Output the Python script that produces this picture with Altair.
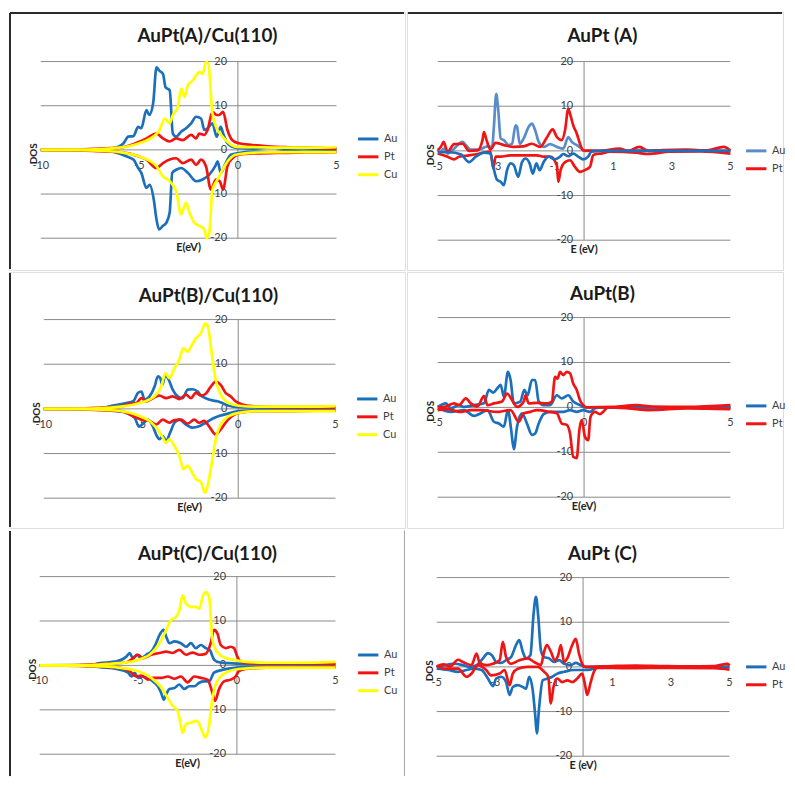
import altair as alt
import pandas as pd

# ---------------- data ----------------
Y_TICKS = [-20, -10, 0, 10, 20]
X_TICKS_CU = [-10, -5, 0, 5]
X_TICKS_A = [-5, -3, -1, 1, 3, 5]
X_TICKS_B = [-5, 0, 5]
X_TICKS_C = [-5, -3, -1, 1, 3, 5]

# ---- AuPt(A)/Cu(110)
A_CU_AU_UP_E = [-10, -8, -7, -6.3, -5.8, -5.56, -5.3, -5.06, -4.9, -4.64, -4.5, -4.3, -4.13, -4.0, -3.8, -3.67, -3.46, -3.3, -3.13, -2.88, -2.63, -2.37, -2.12, -1.87, -1.7, -1.54, -1.29, -1.08, -0.87, -0.75, -0.53, -0.28, 0.05, 0.8, 1.7, 2.3, 3.2, 4.0, 5]
A_CU_AU_UP = [0, 0.05, 0.2, 0.4, 1.5, 3, 3.1, 5.2, 4.9, 9, 7.9, 10.5, 18.7, 18, 17.2, 14.2, 13.5, 3.7, 3, 4.1, 4.9, 6, 7.5, 7.1, 4.5, 4.9, 6, 3, 5.2, 3.7, 1.5, 0.7, 0.4, 0.3, 0.6, 0.3, 0.4, 0.3, 0.3]
A_CU_AU_DN_E = [-10, -8, -7, -6.5, -5.64, -5.3, -5.06, -4.9, -4.64, -4.47, -4.27, -4.13, -4.0, -3.8, -3.63, -3.46, -3.33, -3.13, -2.88, -2.54, -2.12, -1.79, -1.45, -1.15, -1.03, -0.87, -0.62, -0.36, 0.05, 0.8, 1.7, 2.5, 3.5, 5]
A_CU_AU_DN = [0, -0.05, -0.2, -0.3, -1.5, -2.2, -4.1, -5.2, -8.6, -7.9, -11.2, -15.7, -18, -17.2, -16.5, -14.2, -5.2, -4.5, -4.1, -5.2, -7.1, -6.7, -5.6, -3.7, -2.6, -5.2, -3, -1.1, -0.7, -0.4, -0.6, -0.3, -0.4, -0.3]
A_CU_PT_UP_E = [-10, -8, -7, -6, -5.5, -4.97, -4.64, -4.13, -3.8, -3.46, -3.13, -2.8, -2.37, -2.12, -1.96, -1.7, -1.54, -1.29, -1.08, -0.95, -0.75, -0.53, -0.28, 0.05, 0.73, 1.5, 2.5, 3.5, 5]
A_CU_PT_UP = [0, 0.1, 0.3, 0.5, 1, 1.9, 2.6, 3.7, 2.6, 1.9, 2.6, 2.2, 3.4, 2.6, 3.7, 3.4, 4.5, 8.6, 7.9, 7.9, 8.6, 4.5, 2.2, 1.5, 1.1, 0.8, 0.6, 0.5, 0.3]
A_CU_PT_DN_E = [-10, -8, -7, -6, -5, -4.64, -4.13, -3.8, -3.46, -3.13, -2.8, -2.37, -2.12, -1.87, -1.62, -1.37, -1.12, -0.92, -0.75, -0.53, -0.28, 0.05, 0.8, 2, 3.5, 5]
A_CU_PT_DN = [0, -0.1, -0.3, -0.5, -1.5, -2.2, -4.1, -3, -2.2, -1.9, -3, -2.2, -3.4, -2.2, -3.7, -9, -6.7, -7.1, -9, -3.7, -1.9, -1.1, -0.8, -0.7, -0.6, -0.5]
A_CU_CU_UP_E = [-10, -8, -7, -6, -5, -4.3, -3.97, -3.72, -3.46, -3.3, -3.05, -2.88, -2.7, -2.54, -2.29, -2.12, -1.96, -1.79, -1.62, -1.5, -1.29, -1.03, -0.78, -0.45, -0.11, 1, 2.5, 4, 5]
A_CU_CU_UP = [0, 0.05, 0.2, 0.5, 1.5, 3, 4.5, 7.1, 6, 7.9, 9.7, 13.9, 12, 14.6, 15.7, 16.9, 17.6, 17.2, 19.9, 19.5, 8.2, 4.5, 3, 1.5, 0.7, 0.6, 0.5, 0.5, 0.6]
A_CU_CU_DN_E = [-10, -8, -7, -6, -5, -4.13, -3.8, -3.46, -3.13, -2.88, -2.63, -2.46, -2.21, -1.96, -1.7, -1.59, -1.45, -1.29, -1.03, -0.78, -0.45, -0.11, 1, 2.5, 4, 5]
A_CU_CU_DN = [0, -0.05, -0.2, -0.5, -1.5, -3.7, -6, -7.1, -9.4, -14.6, -12, -14.2, -16.5, -17.2, -18, -20, -18.7, -9, -6.7, -4.5, -2.2, -1.1, -0.6, -0.5, -0.5, -0.5]

# ---- AuPt (A)
A_AU_UP_E = [-5, -4.94, -4.77, -4.66, -4.5, -4.15, -4.04, -3.87, -3.6, -3.3, -3.14, -3.08, -3.0, -2.93, -2.85, -2.74, -2.57, -2.46, -2.34, -2.29, -2.2, -2.06, -1.89, -1.78, -1.67, -1.55, -1.38, -1.16, -0.93, -0.71, -0.54, -0.42, -0.25, -0.08, 0.03, 1, 2, 3, 4, 5]
A_AU_UP = [0.3, -0.2, 0.5, -0.6, 0.1, 2, 1.3, 0.3, 0.3, 1.0, 0.9, 5.4, 12.8, 9, 2.8, 2.4, 1.3, 1.6, 5.7, 5.4, 1.6, 2.8, 5.4, 6.1, 4.6, 2, 0.9, 1.5, 0.9, 0.5, 3.1, 2, 1.3, 0.5, 0, 0, 0.1, 0, 0.1, 0]
A_AU_DN_E = [-5, -4.6, -4.2, -3.93, -3.7, -3.42, -3.2, -3.1, -2.97, -2.85, -2.74, -2.63, -2.51, -2.4, -2.25, -2.12, -2.0, -1.86, -1.75, -1.63, -1.52, -1.38, -1.21, -0.99, -0.82, -0.71, -0.54, -0.37, -0.2, -0.03, 0.14, 0.25, 0.5, 1.5, 3, 5]
A_AU_DN = [-0.3, -0.3, -0.8, -2.5, -1.3, -0.4, -0.6, -3.6, -6.5, -6.9, -7.7, -4.3, -2.8, -3.2, -5.8, -2.5, -1.7, -2.8, -5.1, -2.8, -4.3, -2.5, -1.3, -1.9, -1.3, -0.7, -1.2, -0.6, -1.3, -1.9, -1.3, -0.2, 0, 0, 0, 0]
A_PT_UP_E = [-5, -4.89, -4.8, -4.66, -4.44, -4.15, -3.93, -3.64, -3.47, -3.42, -3.33, -3.2, -3.02, -2.74, -2.4, -2.06, -1.78, -1.5, -1.27, -1.07, -0.93, -0.76, -0.65, -0.54, -0.45, -0.37, -0.25, -0.14, -0.03, 0.5, 1.21, 1.5, 1.89, 2.2, 2.68, 3.47, 4.2, 4.77, 5]
A_PT_UP = [0.2, 0.9, 2, -0.2, 1.5, 1.6, 0, 0.1, 2.4, 4.2, 2.4, 0.3, 1.8, 1.3, 0.9, 1.0, 1.6, 0.9, 3, 4.8, 3.1, 2.4, 4.6, 9.4, 7.6, 5.7, 3.9, 1.6, 0.1, 0, 0.5, 0, 0.9, 0, 0.2, 0.3, 0.1, 0.9, 0.1]
A_PT_DN_E = [-5, -4.66, -4.44, -4.27, -3.93, -3.64, -3.2, -3.1, -3.02, -2.85, -2.51, -2.18, -1.61, -1.38, -1.16, -0.93, -0.88, -0.8, -0.65, -0.48, -0.31, -0.14, 0.03, 0.2, 0.31, 0.42, 0.59, 0.88, 1.78, 2.18, 2.91, 4, 5]
A_PT_DN = [-0.6, -1.3, -1.9, -1.3, -1, -0.7, -0.2, -3.9, -1.3, -1.3, -1, -1, -1, -1.3, -1.3, -3.2, -6.9, -4.3, -2.5, -2.1, -3.6, -4.7, -4.3, -3.6, -1, -0.7, -0.6, -0.2, -0.4, -0.7, -0.2, -0.1, -0.6]

# ---- AuPt(B)/Cu(110)
B_CU_AU_UP_E = [-10, -8, -7, -6.6, -5.75, -5.4, -5.15, -4.98, -4.81, -4.56, -4.3, -4.13, -4.01, -3.91, -3.74, -3.57, -3.37, -3.11, -2.86, -2.6, -2.35, -2.09, -1.92, -1.67, -1.33, -1.07, -0.82, -0.48, 0.03, 1, 2.5, 4, 5]
B_CU_AU_UP = [0, 0.05, 0.2, 0.6, 1.3, 1.7, 3.6, 3.9, 2.1, 2.8, 5, 7.3, 6.9, 5.4, 7.6, 6.5, 4.3, 2.8, 2.4, 4.3, 4.4, 3.9, 3, 2.4, 1.9, 1.7, 1.3, 0.7, 0.4, 0.3, 0.2, 0.3, 0.2]
B_CU_AU_DN_E = [-10, -8, -7, -6.5, -5.75, -5.32, -5.1, -4.9, -4.64, -4.39, -4.18, -4.05, -3.88, -3.71, -3.5, -3.28, -3.03, -2.69, -2.35, -2.01, -1.67, -1.33, -0.99, -0.48, 0.03, 1, 2.5, 4, 5]
B_CU_AU_DN = [0, -0.05, -0.2, -0.4, -0.9, -2, -4, -3.3, -2.4, -3.9, -6.1, -6.8, -6.1, -7.2, -5.3, -3.1, -2.4, -3.5, -4.2, -3.9, -3.1, -2.2, -1.6, -1, -0.5, -0.3, -0.3, -0.3, -0.3]
B_CU_PT_UP_E = [-10, -8, -7, -6, -5.75, -5.24, -4.98, -4.73, -4.39, -4.05, -3.71, -3.37, -3.03, -2.69, -2.43, -2.18, -1.92, -1.67, -1.41, -1.16, -0.9, -0.65, -0.39, -0.14, 0.2, 0.71, 2, 3.5, 5]
B_CU_PT_UP = [0, 0.1, 0.3, 0.5, 1, 1.3, 2.4, 1.7, 2.4, 3, 2.4, 2.8, 2.2, 3.2, 2.4, 3.6, 3, 3.4, 5, 6.1, 5.4, 3.6, 2.8, 1.7, 1, 0.6, 0.4, 0.4, 0.4]
B_CU_PT_DN_E = [-10, -8, -7, -6, -5.41, -4.98, -4.56, -4.22, -3.88, -3.54, -3.28, -2.94, -2.6, -2.26, -2.01, -1.75, -1.5, -1.16, -0.9, -0.65, -0.31, 0.03, 1, 2.5, 4, 5]
B_CU_PT_DN = [0, -0.1, -0.3, -0.5, -1.6, -2.4, -2.7, -3.5, -2.4, -3.1, -2.5, -2.4, -3.3, -2.4, -3.1, -2.7, -3.9, -5.7, -4.6, -3.1, -1.6, -0.9, -0.5, -0.5, -0.4, -0.4]
B_CU_CU_UP_E = [-10, -8, -7, -6, -5.07, -4.56, -4.22, -3.96, -3.74, -3.54, -3.28, -3.03, -2.82, -2.6, -2.38, -2.18, -1.92, -1.7, -1.58, -1.36, -1.16, -0.9, -0.48, 0.03, 1, 2.5, 4, 5]
B_CU_CU_UP = [0, 0.05, 0.2, 0.5, 1.3, 2.1, 3.2, 5, 8, 6.9, 9.1, 11, 13.6, 12.8, 14.3, 15.8, 16.9, 19.1, 18.7, 12.4, 6.5, 3.2, 1.3, 0.7, 0.5, 0.5, 0.5, 0.6]
B_CU_CU_DN_E = [-10, -8, -7, -6, -5.07, -4.56, -4.22, -3.88, -3.71, -3.54, -3.28, -3.03, -2.82, -2.6, -2.38, -2.18, -1.92, -1.7, -1.53, -1.33, -1.12, -0.9, -0.48, 0.03, 1, 2.5, 4, 5]
B_CU_CU_DN = [0, -0.05, -0.2, -0.5, -1.6, -2.7, -4.2, -6.4, -7.6, -6.8, -8.3, -10.5, -13.5, -12.7, -14.2, -15.7, -16.4, -18.8, -16.4, -11.3, -6.1, -3.5, -1.6, -0.9, -0.5, -0.5, -0.5, -0.5]

# ---- AuPt(B)
B_AU_UP_E = [-5, -4.72, -4.55, -4.27, -4.1, -3.76, -3.42, -3.25, -3.1, -2.97, -2.85, -2.74, -2.6, -2.51, -2.4, -2.18, -2.04, -1.93, -1.78, -1.67, -1.55, -1.38, -1.16, -0.93, -0.76, -0.54, -0.37, -0.14, 0.03, 1, 2, 3, 4, 5]
B_AU_UP = [0.1, 0.9, -0.2, 0.5, 0.1, 0.5, 0.9, 3.9, 3.3, 4.2, 5, 2.4, 7.9, 6.1, 0.9, 1.3, 3.9, 2.7, 6.1, 6.1, 1.3, 0.5, 0.5, 2.7, 2, 2.7, 1.3, 0.5, 0, 0, 0, 0, 0, 0]
B_AU_DN_E = [-5, -4.55, -4.1, -3.76, -3.53, -3.3, -3.08, -2.91, -2.74, -2.6, -2.49, -2.4, -2.29, -2.12, -1.95, -1.78, -1.67, -1.55, -1.38, -1.16, -0.93, -0.71, -0.48, -0.25, -0.03, 0.2, 0.37, 0.6, 2, 3.5, 5]
B_AU_DN = [-0.2, -1, -0.6, -1.9, -1.3, -0.6, -3.2, -3.6, -4.3, -0.6, -5, -9.3, -4.3, -1.3, -3.6, -6.1, -5.8, -3.6, -1.5, -1, -1, -1, -0.6, -1, -0.6, -1, -0.2, 0, 0, 0, 0]
B_PT_UP_E = [-5, -4.72, -4.44, -4.27, -4.04, -3.87, -3.64, -3.42, -3.3, -3.08, -2.8, -2.63, -2.46, -2.29, -2.06, -2.0, -1.89, -1.61, -1.27, -1.1, -0.99, -0.91, -0.82, -0.71, -0.59, -0.48, -0.37, -0.25, -0.14, -0.03, 0.08, 1, 1.78, 2.34, 3.5, 5]
B_PT_UP = [0, 0.2, 0.9, 0.5, 2, 0.9, 0.2, 2.5, 0.5, 0.9, 1.3, 3.1, 1.6, 0.1, 1.3, 2.7, 0.9, 1, 0.9, 1.3, 6.8, 6.4, 7.9, 7.2, 7.9, 7.6, 5.3, 3.9, 1.6, 0.5, 0, 0.1, 0.5, 0.2, 0.1, 0.5]
B_PT_DN_E = [-5, -4.66, -4.44, -4.21, -3.87, -3.53, -2.97, -2.51, -2.23, -2.06, -1.84, -1.61, -1.16, -0.93, -0.76, -0.59, -0.48, -0.37, -0.25, -0.16, -0.08, 0.03, 0.14, 0.22, 0.37, 0.54, 0.65, 0.82, 1.5, 2.23, 3.5, 5]
B_PT_DN = [-0.6, -0.4, -0.7, -1, -0.6, -0.6, -1, -0.6, -3.2, -1.3, -1, -0.6, -1, -1.3, -3.6, -3.9, -5.8, -11, -11.3, -5, -2.8, -6.5, -7.3, -2.1, -1, -1.5, -1, 0, -0.2, -0.6, -0.2, -0.4]

# ---- AuPt(C)/Cu(110)
C_CU_AU_UP_E = [-10, -8, -7.5, -6.95, -6.1, -5.6, -5.44, -5.27, -5.07, -4.85, -4.6, -4.35, -4.1, -3.93, -3.72, -3.59, -3.42, -3.17, -2.84, -2.58, -2.33, -2.08, -1.83, -1.58, -1.38, -1.16, -0.91, -0.4, 0.1, 1, 2.5, 4, 5]
C_CU_AU_UP = [0, 0.05, 0.1, 0.5, 0.9, 2, 2.8, 1.6, 2.4, 1.6, 2.4, 3.1, 5, 6.8, 8, 6.5, 5, 5.4, 5, 4.2, 5, 3.9, 4.6, 3.9, 3.5, 1.3, 0.7, 0.5, 0.4, 0.3, 0.3, 0.3, 0.3]
C_CU_AU_DN_E = [-10, -8, -7.5, -6.95, -6.1, -5.52, -5.35, -5.18, -5.02, -4.77, -4.51, -4.26, -4.01, -3.84, -3.71, -3.59, -3.42, -3.17, -2.92, -2.67, -2.42, -2.16, -1.91, -1.66, -1.41, -1.16, -0.74, -0.23, 0.5, 2, 3.5, 5]
C_CU_AU_DN = [0, -0.05, -0.1, -0.4, -0.8, -1.6, -2.5, -1.7, -2.8, -2.5, -2.8, -3.6, -4.7, -6.2, -7.7, -6.5, -5.3, -5.1, -4.3, -5.3, -4.7, -4.7, -3.9, -3.6, -3.6, -1.6, -1, -0.6, -0.4, -0.4, -0.3, -0.4]
C_CU_PT_UP_E = [-10, -8, -7, -6, -5.6, -5.27, -5.02, -4.77, -4.35, -3.93, -3.59, -3.26, -2.92, -2.58, -2.25, -1.91, -1.58, -1.33, -1.16, -0.99, -0.82, -0.57, -0.32, -0.15, 0.02, 0.18, 0.6, 2, 3.5, 5]
C_CU_PT_UP = [0, 0.1, 0.3, 0.5, 0.7, 1.6, 2.4, 1.6, 2.4, 2.8, 3.1, 2.8, 3.5, 2.4, 2.9, 2.4, 2.6, 5, 8, 7.2, 4.6, 3.9, 4.2, 3.9, 2, 0.9, 0.5, 0.4, 0.4, 0.3]
C_CU_PT_DN_E = [-10, -8, -7, -6, -5.44, -5.1, -4.85, -4.51, -4.26, -3.84, -3.51, -3.17, -2.84, -2.5, -2.16, -1.83, -1.49, -1.24, -1.11, -0.91, -0.65, -0.32, -0.07, 0.1, 0.44, 1.5, 3, 5]
C_CU_PT_DN = [0, -0.1, -0.3, -0.5, -1.3, -2.5, -2.3, -3.2, -2.8, -2.8, -2.5, -3, -2.5, -3.8, -2.5, -2.8, -3.2, -6.2, -8, -5.4, -3.6, -3.2, -2.5, -1.3, -0.8, -0.5, -0.5, -0.4]
C_CU_CU_UP_E = [-10, -8, -7, -6, -5.27, -4.77, -4.43, -4.1, -3.84, -3.59, -3.34, -3.09, -2.92, -2.75, -2.58, -2.33, -2.08, -1.91, -1.71, -1.58, -1.41, -1.24, -1.07, -0.74, -0.23, 0.27, 1.5, 3, 5]
C_CU_CU_UP = [0, 0.05, 0.2, 0.5, 0.9, 1.6, 2.4, 3.9, 5.7, 8, 10.2, 10.9, 12.4, 15.8, 13.9, 13.2, 13.2, 12.8, 15.8, 16.5, 15.4, 5.7, 3.5, 2, 1.3, 0.9, 0.6, 0.6, 0.8]
C_CU_CU_DN_E = [-10, -8, -7, -6, -5.27, -4.77, -4.35, -4.01, -3.76, -3.51, -3.26, -3.0, -2.84, -2.75, -2.58, -2.33, -2.08, -1.91, -1.74, -1.61, -1.44, -1.27, -1.11, -0.82, -0.4, 0.1, 1.5, 3, 5]
C_CU_CU_DN = [0, -0.05, -0.2, -0.5, -1, -1.7, -2.8, -4.1, -5.4, -7.3, -9.1, -10.3, -13.6, -15.2, -13.2, -12.9, -12.5, -13.2, -15.1, -16.2, -14.3, -8.4, -4.7, -2.5, -1.3, -0.8, -0.5, -0.5, -0.5]

# ---- AuPt (C)
C_AU_UP_E = [-5, -4.72, -4.38, -4.1, -3.87, -3.64, -3.42, -3.25, -3.11, -2.97, -2.8, -2.63, -2.46, -2.29, -2.18, -2.06, -1.95, -1.8, -1.69, -1.61, -1.53, -1.44, -1.33, -1.16, -0.99, -0.82, -0.65, -0.42, -0.25, -0.08, 0.08, 1, 2, 3, 4, 5]
C_AU_UP = [-0.1, 0.4, 0.7, 0.4, 0, 0.4, 1.9, 3.1, 2.6, 1.1, 0.9, 1.5, 2.2, 4.9, 6, 3.4, 1.9, 2.6, 11.9, 15.7, 11.2, 3.7, 2.2, 1.9, 1.1, 1.5, 0.7, 0.4, 0.9, 0.4, 0, 0, 0, 0, 0, 0]
C_AU_DN_E = [-5, -4.6, -4.27, -3.98, -3.76, -3.47, -3.25, -3.08, -2.97, -2.8, -2.63, -2.51, -2.4, -2.23, -2.06, -1.95, -1.84, -1.72, -1.63, -1.58, -1.5, -1.38, -1.21, -1.05, -0.88, -0.65, -0.31, 0.03, 0.25, 0.48, 1.5, 3, 5]
C_AU_DN = [-0.4, -0.7, -1.1, -0.7, -0.4, -0.7, -2.6, -4.3, -2.6, -2.2, -3.4, -6.3, -4.5, -4.1, -4.5, -4.9, -2.2, -5.2, -11.2, -14.9, -9, -3, -2.6, -2.2, -1.5, -1.1, -0.7, -0.7, -0.6, -0.1, 0, 0, 0]
C_PT_UP_E = [-5, -4.77, -4.55, -4.27, -4.1, -3.81, -3.64, -3.53, -3.31, -3.08, -2.85, -2.74, -2.63, -2.46, -2.18, -1.89, -1.67, -1.44, -1.33, -1.24, -1.1, -0.97, -0.85, -0.76, -0.65, -0.54, -0.37, -0.25, -0.14, -0.03, 0.08, 1, 1.8, 2.6, 3.5, 4.5, 4.94, 5]
C_PT_UP = [0.1, 0.6, 0.1, 1.6, 1.1, 0.4, 3, 0.9, 0.4, 0.7, 1.5, 5.6, 2.2, 0.7, 1.5, 1.9, 1.1, 0.4, 3.4, 4.9, 3.4, 1.5, 2.6, 4.9, 1.1, 1.9, 4.9, 6.3, 3, 0.7, 0, 0.2, 0.3, 0.2, 0.1, 0.2, 0.7, 0.3]
C_PT_DN_E = [-5, -4.72, -4.27, -3.98, -3.81, -3.59, -3.31, -3.14, -2.85, -2.68, -2.51, -2.4, -2.23, -1.89, -1.55, -1.33, -1.19, -1.1, -1.01, -0.88, -0.71, -0.54, -0.37, -0.2, -0.03, 0.08, 0.14, 0.25, 0.37, 0.48, 1.5, 3, 4.5, 5]
C_PT_DN = [0.3, -0.4, -0.4, -2.2, -1.5, 0.4, -0.7, -1.9, -1.5, -0.7, -4.1, -1.5, -0.4, 0, 0, -1.1, -2.2, -8.2, -4.5, -2.6, -3.4, -3, -3.4, -2.6, -1.5, -4.5, -6.3, -3.7, -1.1, -0.2, -0.3, -0.2, -0.3, -0.6]

# ---------------- styling ----------------
FONT = "Lato"
TXT = "#404040"
GRID = "#8a8a8a"
FRAME = "#a3a3a3"
DARK = "#2a2a2a"
BLUE = "#1c6fba"
LIGHT_BLUE = "#5b8cc9"
RED = "#f01414"
YELLOW = "#ffff00"

LEFT_W, RIGHT_W = 399, 379
ROW_H = [260, 258, 249]


def series_df(species, spin, e, v):
    return pd.DataFrame({"E": e, "DOS": v, "species": species, "spin": spin})


def panel(title, title_x, title_y, groups, xdom, xticks, xtitle, W, H, xr, yr,
          lx, ly, legend_species, legend_colors, extra=None,
          top_edge=False, left_edge=False, right_edge=False, boxed=True):
    xs = alt.Scale(domain=xdom, range=xr, nice=False, zero=False)
    ys = alt.Scale(domain=[Y_TICKS[0], Y_TICKS[-1]], range=yr, nice=False, zero=False)
    layers = []

    grid = pd.DataFrame({"y": Y_TICKS, "x1": xdom[0], "x2": xdom[1]})
    layers.append(alt.Chart(grid).mark_rule(color=GRID, strokeWidth=1).encode(
        x=alt.X("x1:Q", scale=xs, axis=None), x2="x2:Q",
        y=alt.Y("y:Q", scale=ys, axis=None)))
    vline = pd.DataFrame({"x": [0], "y1": [Y_TICKS[0]], "y2": [Y_TICKS[-1]]})
    layers.append(alt.Chart(vline).mark_rule(color=GRID, strokeWidth=1).encode(
        x=alt.X("x:Q", scale=xs, axis=None),
        y=alt.Y("y1:Q", scale=ys, axis=None), y2="y2:Q"))

    ylab = pd.DataFrame({"x": 0, "y": Y_TICKS, "t": [str(v) for v in Y_TICKS]})
    layers.append(alt.Chart(ylab).mark_text(
        align="right", baseline="middle", dx=-11, font=FONT, fontSize=11, color=TXT
    ).encode(x=alt.X("x:Q", scale=xs, axis=None), y=alt.Y("y:Q", scale=ys, axis=None), text="t:N"))
    xlab = pd.DataFrame({"x": xticks, "y": 0, "t": [str(v) for v in xticks]})
    layers.append(alt.Chart(xlab).mark_text(
        align="center", baseline="middle", dy=16, font=FONT, fontSize=11, color=TXT
    ).encode(x=alt.X("x:Q", scale=xs, axis=None), y=alt.Y("y:Q", scale=ys, axis=None), text="t:N"))

    # rotated axis title: offsets are in the rotated frame (dx -> up, dy -> right)
    dos = pd.DataFrame({"x": [xdom[0]], "y": [0], "t": ["DOS"]})
    layers.append(alt.Chart(dos).mark_text(
        angle=270, align="center", baseline="middle", dx=-4, dy=-7,
        font=FONT, fontSize=10, fontWeight="bold", color="#222222"
    ).encode(x=alt.X("x:Q", scale=xs, axis=None), y=alt.Y("y:Q", scale=ys, axis=None), text="t:N"))
    et = pd.DataFrame({"x": [(xdom[0] + xdom[1]) / 2], "y": [Y_TICKS[0]], "t": [xtitle]})
    layers.append(alt.Chart(et).mark_text(
        align="center", baseline="middle", dy=10,
        font=FONT, fontSize=11, fontWeight="bold", color="#222222"
    ).encode(x=alt.X("x:Q", scale=xs, axis=None), y=alt.Y("y:Q", scale=ys, axis=None), text="t:N"))

    color = alt.Color(
        "species:N",
        scale=alt.Scale(domain=legend_species, range=legend_colors),
        legend=alt.Legend(
            orient="none", legendX=lx, legendY=ly, title=None,
            symbolType="stroke", symbolStrokeWidth=3, symbolSize=420,
            labelFont=FONT, labelFontSize=11, labelColor=TXT,
            rowPadding=0, labelOffset=4, padding=0,
        ),
    )
    for df in groups:
        layers.append(alt.Chart(df).mark_line(strokeWidth=2.7, interpolate="monotone").encode(
            x=alt.X("E:Q", scale=xs, axis=None),
            y=alt.Y("DOS:Q", scale=ys, axis=None),
            color=color, detail="spin:N"))
    if extra is not None:
        df, col = extra
        layers.append(alt.Chart(df).mark_line(strokeWidth=2.7, interpolate="monotone", color=col).encode(
            x=alt.X("E:Q", scale=xs, axis=None),
            y=alt.Y("DOS:Q", scale=ys, axis=None), detail="spin:N"))

    tdf = pd.DataFrame({"t": [title]})
    layers.append(alt.Chart(tdf).mark_text(
        align="center", baseline="middle", font=FONT, fontSize=19, fontWeight="bold", color="#1a1a1a"
    ).encode(x=alt.value(title_x), y=alt.value(title_y), text="t:N"))

    one = pd.DataFrame({"a": [0]})
    if top_edge:
        layers.append(alt.Chart(one).mark_rule(color=DARK, strokeWidth=2).encode(
            x=alt.value(1), x2=alt.value(W - 1), y=alt.value(1)))
    if left_edge:
        layers.append(alt.Chart(one).mark_rule(color=DARK, strokeWidth=2).encode(
            x=alt.value(1), y=alt.value(1), y2=alt.value(H - 1)))
    if right_edge:
        layers.append(alt.Chart(one).mark_rule(color=FRAME, strokeWidth=1).encode(
            x=alt.value(W - 0.5), y=alt.value(0.5), y2=alt.value(H - 1)))

    ch = alt.layer(*layers).properties(width=W, height=H)
    if not boxed:
        ch = ch.properties(view=alt.ViewBackground(stroke="transparent"))
    return ch


def cu_groups(au_up, au_dn, pt_up, pt_dn, cu_up, cu_dn):
    return [
        pd.concat([series_df("Au", "up", *au_up), series_df("Au", "down", *au_dn)]),
        pd.concat([series_df("Pt", "up", *pt_up), series_df("Pt", "down", *pt_dn)]),
        pd.concat([series_df("Cu", "up", *cu_up), series_df("Cu", "down", *cu_dn)]),
    ]


p1 = panel("AuPt(A)/Cu(110)", 200, 24,
           cu_groups((A_CU_AU_UP_E, A_CU_AU_UP), (A_CU_AU_DN_E, A_CU_AU_DN),
                     (A_CU_PT_UP_E, A_CU_PT_UP), (A_CU_PT_DN_E, A_CU_PT_DN),
                     (A_CU_CU_UP_E, A_CU_CU_UP), (A_CU_CU_DN_E, A_CU_CU_DN)),
           [-10, 5], X_TICKS_CU, "E(eV)", LEFT_W, ROW_H[0], [32, 330], [228, 50],
           350, 116, ["Au", "Pt", "Cu"], [BLUE, RED, YELLOW],
           top_edge=True, left_edge=True)

p2 = panel("AuPt (A)", 197, 24,
           [series_df("Au", "up", A_AU_UP_E, A_AU_UP),
            pd.concat([series_df("Pt", "up", A_PT_UP_E, A_PT_UP), series_df("Pt", "down", A_PT_DN_E, A_PT_DN)])],
           [-5, 5], X_TICKS_A, "E (eV)", RIGHT_W, ROW_H[0], [31, 326], [230, 50],
           340, 128, ["Au", "Pt"], [LIGHT_BLUE, RED],
           extra=(series_df("Au", "down", A_AU_DN_E, A_AU_DN), BLUE),
           top_edge=True)

p3 = panel("AuPt(B)/Cu(110)", 201, 24,
           cu_groups((B_CU_AU_UP_E, B_CU_AU_UP), (B_CU_AU_DN_E, B_CU_AU_DN),
                     (B_CU_PT_UP_E, B_CU_PT_UP), (B_CU_PT_DN_E, B_CU_PT_DN),
                     (B_CU_CU_UP_E, B_CU_CU_UP), (B_CU_CU_DN_E, B_CU_CU_DN)),
           [-10, 5], X_TICKS_CU, "E(eV)", LEFT_W, ROW_H[1], [35, 329], [228, 48],
           349, 116, ["Au", "Pt", "Cu"], [BLUE, RED, YELLOW],
           left_edge=True)

p4 = panel("AuPt(B)", 197, 22,
           [pd.concat([series_df("Au", "up", B_AU_UP_E, B_AU_UP), series_df("Au", "down", B_AU_DN_E, B_AU_DN)]),
            pd.concat([series_df("Pt", "up", B_PT_UP_E, B_PT_UP), series_df("Pt", "down", B_PT_DN_E, B_PT_DN)])],
           [-5, 5], X_TICKS_B, "E(eV)", RIGHT_W, ROW_H[1], [31, 326], [227, 46],
           340, 123, ["Au", "Pt"], [BLUE, RED])

p5 = panel("AuPt(C)/Cu(110)", 200, 24,
           cu_groups((C_CU_AU_UP_E, C_CU_AU_UP), (C_CU_AU_DN_E, C_CU_AU_DN),
                     (C_CU_PT_UP_E, C_CU_PT_UP), (C_CU_PT_DN_E, C_CU_PT_DN),
                     (C_CU_CU_UP_E, C_CU_CU_UP), (C_CU_CU_DN_E, C_CU_CU_DN)),
           [-10, 5], X_TICKS_CU, "E(eV)", LEFT_W, ROW_H[2], [31, 329], [226, 47],
           350, 114, ["Au", "Pt", "Cu"], [BLUE, RED, YELLOW],
           left_edge=True, right_edge=True, boxed=False)

p6 = panel("AuPt (C)", 197, 24,
           [pd.concat([series_df("Au", "up", C_AU_UP_E, C_AU_UP), series_df("Au", "down", C_AU_DN_E, C_AU_DN)]),
            pd.concat([series_df("Pt", "up", C_PT_UP_E, C_PT_UP), series_df("Pt", "down", C_PT_DN_E, C_PT_DN)])],
           [-5, 5], X_TICKS_C, "E (eV)", RIGHT_W, ROW_H[2], [30, 325], [228, 48],
           340, 126, ["Au", "Pt"], [BLUE, RED],
           boxed=False)


def row(a, b):
    return alt.hconcat(a, b, spacing=0).resolve_scale(
        x="independent", y="independent", color="independent"
    ).resolve_legend(color="independent")


chart = alt.vconcat(row(p1, p2), row(p3, p4), row(p5, p6), spacing=0).resolve_scale(
    x="independent", y="independent", color="independent"
).resolve_legend(color="independent").properties(
    padding={"left": 0, "top": 0, "right": 0, "bottom": 0}
).configure_view(stroke=FRAME, strokeWidth=1).configure(background="white")

chart.save("out.html", embed_options={"renderer": "svg", "actions": False})
